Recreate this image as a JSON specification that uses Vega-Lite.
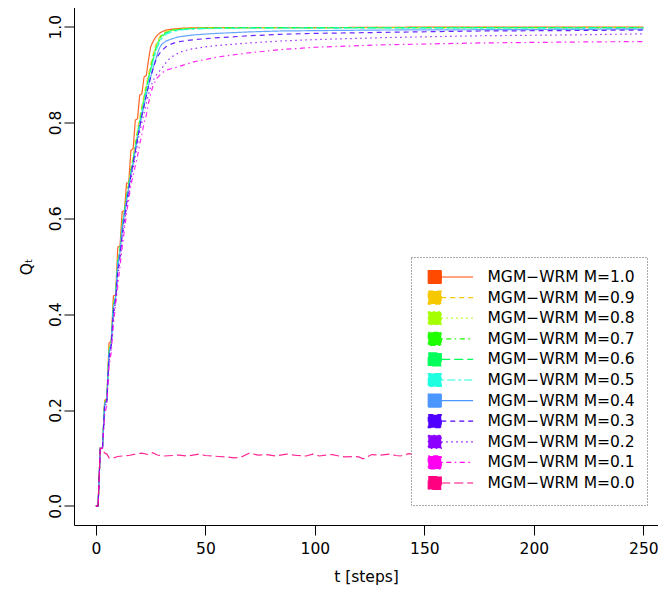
{
 "$schema": "https://vega.github.io/schema/vega-lite/v6.json",
 "width": 584, "height": 517.5,
 "autosize": {"type": "none"},
 "padding": {"left": 74, "top": 7.5, "right": 0, "bottom": 64},
 "background": "white",
 "config": {
  "view": {"stroke": null},
  "font": "DejaVu Sans",
  "axis": {"grid": false, "domainColor": "black", "tickColor": "black", "labelColor": "black", "titleColor": "black", "labelFont": "DejaVu Sans", "titleFont": "DejaVu Sans", "labelFontSize": 15.5, "titleFontSize": 15.5, "titleFontWeight": "normal", "tickSize": 10, "domainWidth": 1, "tickWidth": 1, "labelOverlap": false},
  "legend": {"strokeDash": [1, 2], "strokeWidth": 1}
 },
 "data": {"values": [
  {"M":"1.0","t":0,"Q":0},{"M":"1.0","t":1,"Q":0},{"M":"1.0","t":2,"Q":0.12},{"M":"1.0","t":3,"Q":0.121},{"M":"1.0","t":4,"Q":0.22},{"M":"1.0","t":5,"Q":0.224},{"M":"1.0","t":6,"Q":0.34},{"M":"1.0","t":7,"Q":0.343},{"M":"1.0","t":8,"Q":0.438},{"M":"1.0","t":9,"Q":0.44},{"M":"1.0","t":10,"Q":0.54},{"M":"1.0","t":11,"Q":0.542},{"M":"1.0","t":12,"Q":0.614},{"M":"1.0","t":13,"Q":0.616},{"M":"1.0","t":14,"Q":0.673},{"M":"1.0","t":15,"Q":0.675},{"M":"1.0","t":16,"Q":0.742},{"M":"1.0","t":17,"Q":0.745},{"M":"1.0","t":18,"Q":0.805},{"M":"1.0","t":19,"Q":0.808},{"M":"1.0","t":20,"Q":0.857},{"M":"1.0","t":21,"Q":0.86},{"M":"1.0","t":22,"Q":0.895},{"M":"1.0","t":23,"Q":0.898},{"M":"1.0","t":24,"Q":0.93},{"M":"1.0","t":25,"Q":0.958},{"M":"1.0","t":26,"Q":0.968},{"M":"1.0","t":27,"Q":0.976},{"M":"1.0","t":28,"Q":0.982},{"M":"1.0","t":29,"Q":0.986},{"M":"1.0","t":30,"Q":0.989},{"M":"1.0","t":32,"Q":0.993},{"M":"1.0","t":35,"Q":0.995},{"M":"1.0","t":40,"Q":0.997},{"M":"1.0","t":50,"Q":0.998},{"M":"1.0","t":100,"Q":0.998},{"M":"1.0","t":150,"Q":0.999},{"M":"1.0","t":250,"Q":0.999},

  {"M":"0.9","t":0,"Q":0},{"M":"0.9","t":1,"Q":0},{"M":"0.9","t":2,"Q":0.12},{"M":"0.9","t":3,"Q":0.12},{"M":"0.9","t":4,"Q":0.218},{"M":"0.9","t":5,"Q":0.223},{"M":"0.9","t":6,"Q":0.33},{"M":"0.9","t":7,"Q":0.341},{"M":"0.9","t":8,"Q":0.425},{"M":"0.9","t":9,"Q":0.439},{"M":"0.9","t":10,"Q":0.515},{"M":"0.9","t":11,"Q":0.537},{"M":"0.9","t":12,"Q":0.59},{"M":"0.9","t":13,"Q":0.615},{"M":"0.9","t":14,"Q":0.65},{"M":"0.9","t":15,"Q":0.674},{"M":"0.9","t":16,"Q":0.705},{"M":"0.9","t":17,"Q":0.728},{"M":"0.9","t":18,"Q":0.758},{"M":"0.9","t":19,"Q":0.785},{"M":"0.9","t":20,"Q":0.81},{"M":"0.9","t":21,"Q":0.835},{"M":"0.9","t":22,"Q":0.857},{"M":"0.9","t":23,"Q":0.88},{"M":"0.9","t":24,"Q":0.9},{"M":"0.9","t":25,"Q":0.92},{"M":"0.9","t":26,"Q":0.94},{"M":"0.9","t":27,"Q":0.957},{"M":"0.9","t":28,"Q":0.97},{"M":"0.9","t":29,"Q":0.978},{"M":"0.9","t":30,"Q":0.984},{"M":"0.9","t":32,"Q":0.99},{"M":"0.9","t":35,"Q":0.994},{"M":"0.9","t":40,"Q":0.996},{"M":"0.9","t":50,"Q":0.998},{"M":"0.9","t":70,"Q":0.998},{"M":"0.9","t":250,"Q":0.998},

  {"M":"0.8","t":0,"Q":0},{"M":"0.8","t":1,"Q":0},{"M":"0.8","t":2,"Q":0.12},{"M":"0.8","t":3,"Q":0.12},{"M":"0.8","t":4,"Q":0.216},{"M":"0.8","t":5,"Q":0.222},{"M":"0.8","t":6,"Q":0.327},{"M":"0.8","t":7,"Q":0.34},{"M":"0.8","t":8,"Q":0.422},{"M":"0.8","t":9,"Q":0.438},{"M":"0.8","t":10,"Q":0.512},{"M":"0.8","t":11,"Q":0.536},{"M":"0.8","t":12,"Q":0.587},{"M":"0.8","t":13,"Q":0.614},{"M":"0.8","t":14,"Q":0.647},{"M":"0.8","t":15,"Q":0.672},{"M":"0.8","t":16,"Q":0.702},{"M":"0.8","t":17,"Q":0.724},{"M":"0.8","t":18,"Q":0.753},{"M":"0.8","t":19,"Q":0.78},{"M":"0.8","t":20,"Q":0.805},{"M":"0.8","t":21,"Q":0.83},{"M":"0.8","t":22,"Q":0.852},{"M":"0.8","t":23,"Q":0.875},{"M":"0.8","t":24,"Q":0.895},{"M":"0.8","t":25,"Q":0.915},{"M":"0.8","t":26,"Q":0.935},{"M":"0.8","t":27,"Q":0.952},{"M":"0.8","t":28,"Q":0.966},{"M":"0.8","t":29,"Q":0.975},{"M":"0.8","t":30,"Q":0.982},{"M":"0.8","t":32,"Q":0.989},{"M":"0.8","t":35,"Q":0.993},{"M":"0.8","t":40,"Q":0.996},{"M":"0.8","t":50,"Q":0.997},{"M":"0.8","t":70,"Q":0.998},{"M":"0.8","t":250,"Q":0.999},

  {"M":"0.7","t":0,"Q":0},{"M":"0.7","t":1,"Q":0},{"M":"0.7","t":2,"Q":0.12},{"M":"0.7","t":3,"Q":0.12},{"M":"0.7","t":4,"Q":0.215},{"M":"0.7","t":5,"Q":0.222},{"M":"0.7","t":6,"Q":0.325},{"M":"0.7","t":7,"Q":0.34},{"M":"0.7","t":8,"Q":0.42},{"M":"0.7","t":9,"Q":0.438},{"M":"0.7","t":10,"Q":0.51},{"M":"0.7","t":11,"Q":0.535},{"M":"0.7","t":12,"Q":0.585},{"M":"0.7","t":13,"Q":0.614},{"M":"0.7","t":14,"Q":0.645},{"M":"0.7","t":15,"Q":0.671},{"M":"0.7","t":16,"Q":0.7},{"M":"0.7","t":17,"Q":0.722},{"M":"0.7","t":18,"Q":0.75},{"M":"0.7","t":19,"Q":0.777},{"M":"0.7","t":20,"Q":0.802},{"M":"0.7","t":21,"Q":0.827},{"M":"0.7","t":22,"Q":0.849},{"M":"0.7","t":23,"Q":0.872},{"M":"0.7","t":24,"Q":0.893},{"M":"0.7","t":25,"Q":0.913},{"M":"0.7","t":26,"Q":0.933},{"M":"0.7","t":27,"Q":0.95},{"M":"0.7","t":28,"Q":0.964},{"M":"0.7","t":29,"Q":0.974},{"M":"0.7","t":30,"Q":0.981},{"M":"0.7","t":32,"Q":0.988},{"M":"0.7","t":35,"Q":0.993},{"M":"0.7","t":40,"Q":0.995},{"M":"0.7","t":50,"Q":0.997},{"M":"0.7","t":70,"Q":0.998},{"M":"0.7","t":250,"Q":0.998},

  {"M":"0.6","t":0,"Q":0},{"M":"0.6","t":1,"Q":0},{"M":"0.6","t":2,"Q":0.12},{"M":"0.6","t":3,"Q":0.12},{"M":"0.6","t":4,"Q":0.214},{"M":"0.6","t":5,"Q":0.221},{"M":"0.6","t":6,"Q":0.323},{"M":"0.6","t":7,"Q":0.339},{"M":"0.6","t":8,"Q":0.418},{"M":"0.6","t":9,"Q":0.437},{"M":"0.6","t":10,"Q":0.508},{"M":"0.6","t":11,"Q":0.534},{"M":"0.6","t":12,"Q":0.583},{"M":"0.6","t":13,"Q":0.613},{"M":"0.6","t":14,"Q":0.643},{"M":"0.6","t":15,"Q":0.67},{"M":"0.6","t":16,"Q":0.698},{"M":"0.6","t":17,"Q":0.72},{"M":"0.6","t":18,"Q":0.748},{"M":"0.6","t":19,"Q":0.775},{"M":"0.6","t":20,"Q":0.8},{"M":"0.6","t":21,"Q":0.825},{"M":"0.6","t":22,"Q":0.847},{"M":"0.6","t":23,"Q":0.87},{"M":"0.6","t":24,"Q":0.89},{"M":"0.6","t":25,"Q":0.91},{"M":"0.6","t":26,"Q":0.93},{"M":"0.6","t":27,"Q":0.947},{"M":"0.6","t":28,"Q":0.961},{"M":"0.6","t":29,"Q":0.971},{"M":"0.6","t":30,"Q":0.979},{"M":"0.6","t":32,"Q":0.987},{"M":"0.6","t":35,"Q":0.992},{"M":"0.6","t":40,"Q":0.995},{"M":"0.6","t":50,"Q":0.997},{"M":"0.6","t":70,"Q":0.998},{"M":"0.6","t":250,"Q":0.998},

  {"M":"0.5","t":0,"Q":0},{"M":"0.5","t":1,"Q":0},{"M":"0.5","t":2,"Q":0.12},{"M":"0.5","t":3,"Q":0.12},{"M":"0.5","t":4,"Q":0.213},{"M":"0.5","t":5,"Q":0.221},{"M":"0.5","t":6,"Q":0.32},{"M":"0.5","t":7,"Q":0.338},{"M":"0.5","t":8,"Q":0.415},{"M":"0.5","t":9,"Q":0.436},{"M":"0.5","t":10,"Q":0.505},{"M":"0.5","t":11,"Q":0.532},{"M":"0.5","t":12,"Q":0.58},{"M":"0.5","t":13,"Q":0.611},{"M":"0.5","t":14,"Q":0.64},{"M":"0.5","t":15,"Q":0.667},{"M":"0.5","t":16,"Q":0.695},{"M":"0.5","t":17,"Q":0.717},{"M":"0.5","t":18,"Q":0.745},{"M":"0.5","t":19,"Q":0.771},{"M":"0.5","t":20,"Q":0.796},{"M":"0.5","t":21,"Q":0.82},{"M":"0.5","t":22,"Q":0.842},{"M":"0.5","t":23,"Q":0.865},{"M":"0.5","t":24,"Q":0.885},{"M":"0.5","t":25,"Q":0.905},{"M":"0.5","t":26,"Q":0.925},{"M":"0.5","t":27,"Q":0.942},{"M":"0.5","t":28,"Q":0.956},{"M":"0.5","t":29,"Q":0.967},{"M":"0.5","t":30,"Q":0.975},{"M":"0.5","t":32,"Q":0.984},{"M":"0.5","t":35,"Q":0.99},{"M":"0.5","t":40,"Q":0.994},{"M":"0.5","t":50,"Q":0.996},{"M":"0.5","t":70,"Q":0.997},{"M":"0.5","t":250,"Q":0.997},

  {"M":"0.4","t":0,"Q":0},{"M":"0.4","t":1,"Q":0},{"M":"0.4","t":2,"Q":0.12},{"M":"0.4","t":3,"Q":0.12},{"M":"0.4","t":4,"Q":0.213},{"M":"0.4","t":5,"Q":0.221},{"M":"0.4","t":6,"Q":0.32},{"M":"0.4","t":7,"Q":0.337},{"M":"0.4","t":8,"Q":0.413},{"M":"0.4","t":9,"Q":0.435},{"M":"0.4","t":10,"Q":0.503},{"M":"0.4","t":11,"Q":0.53},{"M":"0.4","t":12,"Q":0.577},{"M":"0.4","t":13,"Q":0.608},{"M":"0.4","t":14,"Q":0.637},{"M":"0.4","t":15,"Q":0.664},{"M":"0.4","t":16,"Q":0.692},{"M":"0.4","t":17,"Q":0.714},{"M":"0.4","t":18,"Q":0.742},{"M":"0.4","t":19,"Q":0.767},{"M":"0.4","t":20,"Q":0.792},{"M":"0.4","t":21,"Q":0.815},{"M":"0.4","t":22,"Q":0.836},{"M":"0.4","t":23,"Q":0.857},{"M":"0.4","t":24,"Q":0.877},{"M":"0.4","t":25,"Q":0.895},{"M":"0.4","t":26,"Q":0.912},{"M":"0.4","t":27,"Q":0.927},{"M":"0.4","t":28,"Q":0.942},{"M":"0.4","t":29,"Q":0.955},{"M":"0.4","t":30,"Q":0.963},{"M":"0.4","t":32,"Q":0.97},{"M":"0.4","t":35,"Q":0.975},{"M":"0.4","t":38,"Q":0.979},{"M":"0.4","t":45,"Q":0.983},{"M":"0.4","t":55,"Q":0.986},{"M":"0.4","t":70,"Q":0.989},{"M":"0.4","t":84,"Q":0.991},{"M":"0.4","t":130,"Q":0.993},{"M":"0.4","t":200,"Q":0.994},{"M":"0.4","t":250,"Q":0.995},

  {"M":"0.3","t":0,"Q":0},{"M":"0.3","t":1,"Q":0},{"M":"0.3","t":2,"Q":0.12},{"M":"0.3","t":3,"Q":0.12},{"M":"0.3","t":4,"Q":0.21},{"M":"0.3","t":5,"Q":0.22},{"M":"0.3","t":6,"Q":0.31},{"M":"0.3","t":7,"Q":0.335},{"M":"0.3","t":8,"Q":0.405},{"M":"0.3","t":9,"Q":0.43},{"M":"0.3","t":10,"Q":0.49},{"M":"0.3","t":11,"Q":0.52},{"M":"0.3","t":12,"Q":0.565},{"M":"0.3","t":13,"Q":0.6},{"M":"0.3","t":14,"Q":0.63},{"M":"0.3","t":15,"Q":0.66},{"M":"0.3","t":16,"Q":0.69},{"M":"0.3","t":17,"Q":0.715},{"M":"0.3","t":18,"Q":0.74},{"M":"0.3","t":19,"Q":0.765},{"M":"0.3","t":20,"Q":0.79},{"M":"0.3","t":21,"Q":0.815},{"M":"0.3","t":22,"Q":0.835},{"M":"0.3","t":23,"Q":0.855},{"M":"0.3","t":24,"Q":0.875},{"M":"0.3","t":25,"Q":0.895},{"M":"0.3","t":26,"Q":0.91},{"M":"0.3","t":27,"Q":0.925},{"M":"0.3","t":28,"Q":0.937},{"M":"0.3","t":30,"Q":0.95},{"M":"0.3","t":32,"Q":0.958},{"M":"0.3","t":34,"Q":0.963},{"M":"0.3","t":37,"Q":0.968},{"M":"0.3","t":43,"Q":0.972},{"M":"0.3","t":50,"Q":0.975},{"M":"0.3","t":56,"Q":0.977},{"M":"0.3","t":70,"Q":0.981},{"M":"0.3","t":84,"Q":0.984},{"M":"0.3","t":100,"Q":0.986},{"M":"0.3","t":130,"Q":0.988},{"M":"0.3","t":175,"Q":0.991},{"M":"0.3","t":220,"Q":0.992},{"M":"0.3","t":250,"Q":0.993},

  {"M":"0.2","t":0,"Q":0},{"M":"0.2","t":1,"Q":0},{"M":"0.2","t":2,"Q":0.12},{"M":"0.2","t":3,"Q":0.12},{"M":"0.2","t":4,"Q":0.2},{"M":"0.2","t":5,"Q":0.22},{"M":"0.2","t":6,"Q":0.3},{"M":"0.2","t":7,"Q":0.33},{"M":"0.2","t":8,"Q":0.395},{"M":"0.2","t":9,"Q":0.425},{"M":"0.2","t":10,"Q":0.48},{"M":"0.2","t":11,"Q":0.51},{"M":"0.2","t":12,"Q":0.555},{"M":"0.2","t":13,"Q":0.59},{"M":"0.2","t":14,"Q":0.62},{"M":"0.2","t":15,"Q":0.65},{"M":"0.2","t":16,"Q":0.68},{"M":"0.2","t":17,"Q":0.705},{"M":"0.2","t":18,"Q":0.73},{"M":"0.2","t":19,"Q":0.755},{"M":"0.2","t":20,"Q":0.78},{"M":"0.2","t":21,"Q":0.8},{"M":"0.2","t":22,"Q":0.82},{"M":"0.2","t":23,"Q":0.84},{"M":"0.2","t":24,"Q":0.858},{"M":"0.2","t":25,"Q":0.874},{"M":"0.2","t":26,"Q":0.886},{"M":"0.2","t":27,"Q":0.895},{"M":"0.2","t":28,"Q":0.902},{"M":"0.2","t":30,"Q":0.912},{"M":"0.2","t":32,"Q":0.925},{"M":"0.2","t":34,"Q":0.935},{"M":"0.2","t":38,"Q":0.946},{"M":"0.2","t":43,"Q":0.953},{"M":"0.2","t":50,"Q":0.958},{"M":"0.2","t":56,"Q":0.961},{"M":"0.2","t":70,"Q":0.966},{"M":"0.2","t":84,"Q":0.97},{"M":"0.2","t":100,"Q":0.973},{"M":"0.2","t":130,"Q":0.977},{"M":"0.2","t":175,"Q":0.981},{"M":"0.2","t":220,"Q":0.983},{"M":"0.2","t":250,"Q":0.985},

  {"M":"0.1","t":0,"Q":0},{"M":"0.1","t":1,"Q":0},{"M":"0.1","t":2,"Q":0.12},{"M":"0.1","t":3,"Q":0.12},{"M":"0.1","t":4,"Q":0.19},{"M":"0.1","t":5,"Q":0.21},{"M":"0.1","t":6,"Q":0.29},{"M":"0.1","t":7,"Q":0.32},{"M":"0.1","t":8,"Q":0.38},{"M":"0.1","t":9,"Q":0.42},{"M":"0.1","t":10,"Q":0.46},{"M":"0.1","t":11,"Q":0.5},{"M":"0.1","t":12,"Q":0.54},{"M":"0.1","t":13,"Q":0.575},{"M":"0.1","t":14,"Q":0.61},{"M":"0.1","t":15,"Q":0.64},{"M":"0.1","t":16,"Q":0.67},{"M":"0.1","t":17,"Q":0.69},{"M":"0.1","t":18,"Q":0.71},{"M":"0.1","t":19,"Q":0.73},{"M":"0.1","t":20,"Q":0.755},{"M":"0.1","t":21,"Q":0.775},{"M":"0.1","t":22,"Q":0.8},{"M":"0.1","t":23,"Q":0.815},{"M":"0.1","t":24,"Q":0.84},{"M":"0.1","t":25,"Q":0.86},{"M":"0.1","t":26,"Q":0.875},{"M":"0.1","t":27,"Q":0.885},{"M":"0.1","t":28,"Q":0.893},{"M":"0.1","t":30,"Q":0.903},{"M":"0.1","t":32,"Q":0.909},{"M":"0.1","t":35,"Q":0.913},{"M":"0.1","t":38,"Q":0.917},{"M":"0.1","t":45,"Q":0.927},{"M":"0.1","t":56,"Q":0.937},{"M":"0.1","t":69,"Q":0.945},{"M":"0.1","t":84,"Q":0.952},{"M":"0.1","t":100,"Q":0.957},{"M":"0.1","t":130,"Q":0.962},{"M":"0.1","t":175,"Q":0.966},{"M":"0.1","t":220,"Q":0.968},{"M":"0.1","t":250,"Q":0.969},

  {"M":"0.0","t":0,"Q":0},{"M":"0.0","t":1,"Q":0},{"M":"0.0","t":2,"Q":0.12},{"M":"0.0","t":3,"Q":0.118},{"M":"0.0","t":4,"Q":0.11},{"M":"0.0","t":5,"Q":0.108},{"M":"0.0","t":6,"Q":0.1},{"M":"0.0","t":8,"Q":0.1},{"M":"0.0","t":10,"Q":0.103},{"M":"0.0","t":12,"Q":0.104},{"M":"0.0","t":15,"Q":0.105},{"M":"0.0","t":18,"Q":0.108},{"M":"0.0","t":21,"Q":0.11},{"M":"0.0","t":24,"Q":0.107},{"M":"0.0","t":26,"Q":0.111},{"M":"0.0","t":28,"Q":0.106},{"M":"0.0","t":31,"Q":0.104},{"M":"0.0","t":35,"Q":0.105},{"M":"0.0","t":38,"Q":0.106},{"M":"0.0","t":42,"Q":0.104},{"M":"0.0","t":47,"Q":0.108},{"M":"0.0","t":50,"Q":0.105},{"M":"0.0","t":53,"Q":0.104},{"M":"0.0","t":56,"Q":0.103},{"M":"0.0","t":60,"Q":0.102},{"M":"0.0","t":63,"Q":0.1},{"M":"0.0","t":66,"Q":0.101},{"M":"0.0","t":70,"Q":0.11},{"M":"0.0","t":74,"Q":0.106},{"M":"0.0","t":78,"Q":0.107},{"M":"0.0","t":82,"Q":0.104},{"M":"0.0","t":87,"Q":0.108},{"M":"0.0","t":92,"Q":0.105},{"M":"0.0","t":96,"Q":0.104},{"M":"0.0","t":99,"Q":0.108},{"M":"0.0","t":102,"Q":0.104},{"M":"0.0","t":105,"Q":0.106},{"M":"0.0","t":108,"Q":0.107},{"M":"0.0","t":111,"Q":0.104},{"M":"0.0","t":114,"Q":0.102},{"M":"0.0","t":118,"Q":0.103},{"M":"0.0","t":120,"Q":0.102},{"M":"0.0","t":122,"Q":0.098},{"M":"0.0","t":126,"Q":0.107},{"M":"0.0","t":130,"Q":0.106},{"M":"0.0","t":134,"Q":0.108},{"M":"0.0","t":137,"Q":0.105},{"M":"0.0","t":139,"Q":0.104},{"M":"0.0","t":143,"Q":0.109},{"M":"0.0","t":147,"Q":0.105},{"M":"0.0","t":152,"Q":0.104},{"M":"0.0","t":157,"Q":0.107},{"M":"0.0","t":162,"Q":0.103},{"M":"0.0","t":168,"Q":0.105},{"M":"0.0","t":174,"Q":0.108},{"M":"0.0","t":180,"Q":0.104},{"M":"0.0","t":186,"Q":0.106},{"M":"0.0","t":192,"Q":0.103},{"M":"0.0","t":198,"Q":0.105},{"M":"0.0","t":204,"Q":0.107},{"M":"0.0","t":210,"Q":0.104},{"M":"0.0","t":216,"Q":0.106},{"M":"0.0","t":222,"Q":0.103},{"M":"0.0","t":228,"Q":0.105},{"M":"0.0","t":234,"Q":0.107},{"M":"0.0","t":240,"Q":0.104},{"M":"0.0","t":245,"Q":0.106},{"M":"0.0","t":250,"Q":0.105}
 ]},
 "mark": {"type": "line", "strokeWidth": 1.2, "opacity": 0.85, "clip": true},
 "encoding": {
  "x": {"field": "t", "type": "quantitative",
        "scale": {"domain": [-10, 256.67], "nice": false, "zero": false},
        "axis": {"values": [0, 50, 100, 150, 200, 250], "title": "t [steps]", "labelPadding": 6, "titlePadding": 13, "labelFlush": false}},
  "y": {"field": "Q", "type": "quantitative",
        "scale": {"domain": [-0.04, 1.04], "nice": false, "zero": false},
        "axis": {"values": [0, 0.2, 0.4, 0.6, 0.8, 1], "format": ".1f", "title": "Qₜ", "labelAngle": -90, "labelAlign": "center", "labelBaseline": "alphabetic", "labelPadding": 4, "titlePadding": 14}},
  "color": {"field": "M", "type": "nominal",
        "scale": {"domain": ["1.0","0.9","0.8","0.7","0.6","0.5","0.4","0.3","0.2","0.1","0.0"],
                  "range": ["#FF4A00","#F5C800","#A5FF00","#1EFF00","#00FF5A","#1EFFE0","#4B96FF","#5000FF","#8C00FF","#FF00F0","#FF0080"]},
        "legend": {"title": null, "orient": "none", "legendX": 337, "legendY": 249.5, "direction": "vertical",
                   "fillColor": "white", "strokeColor": "#555", "padding": 12.25, "rowPadding": 1.6,
                   "symbolType": "M-1,-1H1V1H-1Z M1,0H5.9", "symbolSize": 169, "symbolStrokeWidth": 1.2, "symbolOffset": 3.75,
                   "symbolOpacity": 1, "symbolFillColor": {"expr": "scale('color', datum.value)"},
                   "labelOffset": 45, "labelFont": "DejaVu Sans", "labelFontSize": 15.5, "labelColor": "black", "labelLimit": 400,
                   "labelExpr": "'MGM−WRM M=' + datum.label"}},
  "strokeDash": {"field": "M", "type": "nominal",
        "scale": {"domain": ["1.0","0.9","0.8","0.7","0.6","0.5","0.4","0.3","0.2","0.1","0.0"],
                  "range": [[1,0],[5,4],[1.5,3.5],[1.5,3.5,5,3.5],[9,4],[3,3,8,3],[1,0],[5,4],[1.5,3.5],[1.5,3.5,5,3.5],[9,4]]},
        "legend": {"title": null, "orient": "none", "legendX": 337, "legendY": 249.5, "direction": "vertical",
                   "fillColor": "white", "strokeColor": "#555", "padding": 12.25, "rowPadding": 1.6,
                   "symbolType": "M-1,-1H1V1H-1Z M1,0H5.9", "symbolSize": 169, "symbolStrokeWidth": 1.2, "symbolOffset": 3.75,
                   "symbolOpacity": 1, "symbolFillColor": {"expr": "scale('color', datum.value)"},
                   "labelOffset": 45, "labelFont": "DejaVu Sans", "labelFontSize": 15.5, "labelColor": "black", "labelLimit": 400,
                   "labelExpr": "'MGM−WRM M=' + datum.label"}}
 }
}
